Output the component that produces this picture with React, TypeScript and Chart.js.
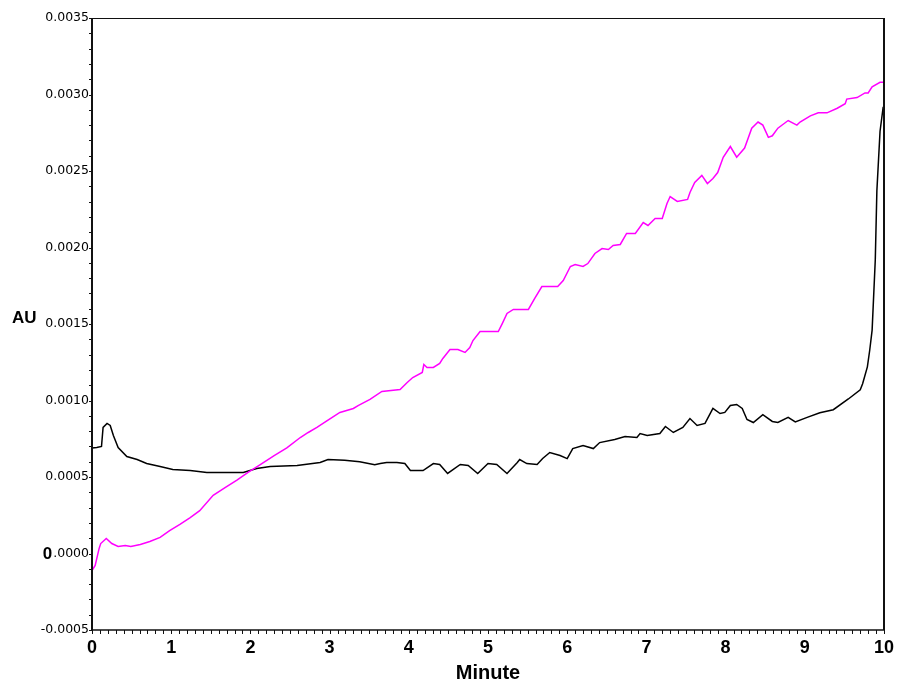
import React, { useEffect, useRef } from "react";
import { Chart, registerables } from "chart.js";

Chart.register(...registerables);

// Magenta trace (minutes, AU)
const magentaTimes = [
  0, 0.04, 0.09, 0.11, 0.18, 0.25, 0.33, 0.42, 0.49, 0.61, 0.73, 0.86, 0.98, 1.11, 1.24, 1.36,
  1.53, 1.68, 1.83, 1.97, 2.12, 2.3, 2.46, 2.63, 2.73, 2.84, 2.97, 3.13, 3.3, 3.36, 3.51, 3.66,
  3.89, 3.98, 4.05, 4.17, 4.19, 4.23, 4.31, 4.39, 4.43, 4.52, 4.62, 4.71, 4.77, 4.81, 4.9, 5.13,
  5.18, 5.24, 5.32, 5.51, 5.59, 5.68, 5.88, 5.95, 6.04, 6.1, 6.2, 6.26, 6.35, 6.44, 6.52, 6.58,
  6.67, 6.75, 6.86, 6.96, 7.02, 7.11, 7.2, 7.26, 7.3, 7.39, 7.52, 7.55, 7.61, 7.7, 7.77, 7.84,
  7.9, 7.97, 8.06, 8.14, 8.24, 8.33, 8.41, 8.47, 8.54, 8.59, 8.66, 8.79, 8.9, 8.94, 9.07, 9.17,
  9.28, 9.41, 9.51, 9.53, 9.66, 9.76, 9.8, 9.85, 9.95, 10.0,
];
const magentaValues = [
  -0.000111, -0.000078, 0.000033, 0.000065, 0.000098, 0.000065, 0.000046, 0.000052, 0.000046,
  0.000059, 0.000078, 0.000105, 0.00015, 0.00019, 0.000235, 0.00028, 0.00038, 0.00043, 0.00048,
  0.00053, 0.00058, 0.00064, 0.00069, 0.000758, 0.000791, 0.000824, 0.000869, 0.000922,
  0.000948, 0.000967, 0.001007, 0.001059, 0.001072, 0.001118, 0.00115, 0.001183, 0.001235,
  0.001216, 0.001216, 0.001242, 0.001275, 0.001333, 0.001333, 0.001314, 0.001346, 0.001392,
  0.001451, 0.001451, 0.001503, 0.001569, 0.001595, 0.001595, 0.001667, 0.001745, 0.001745,
  0.001784, 0.001876, 0.001889, 0.001876, 0.001895, 0.001961, 0.001993, 0.001987, 0.002013,
  0.00202, 0.002092, 0.002092, 0.002163, 0.002144, 0.00219, 0.00219, 0.002288, 0.002333,
  0.002301, 0.002314, 0.00236, 0.002425, 0.002471, 0.002418, 0.002451, 0.00249, 0.00259,
  0.00266, 0.00259, 0.00265, 0.00278, 0.00282, 0.0028, 0.00272, 0.00273, 0.00278, 0.00283,
  0.0028, 0.00282, 0.00286, 0.00288, 0.00288, 0.00291, 0.00294, 0.00297, 0.00298, 0.00301,
  0.00301, 0.00305, 0.00308, 0.00308,
];

// Black trace (minutes, AU)
const blackTimes = [
  0, 0.06, 0.12, 0.14, 0.19, 0.23, 0.27, 0.33, 0.44, 0.57, 0.69, 0.86, 1.02, 1.24, 1.45, 1.65,
  1.91, 2.08, 2.25, 2.59, 2.88, 2.98, 3.19, 3.38, 3.57, 3.64, 3.72, 3.85, 3.95, 4.02, 4.18, 4.31,
  4.39, 4.49, 4.65, 4.75, 4.87, 5.0, 5.11, 5.24, 5.37, 5.4, 5.49, 5.62, 5.69, 5.78, 5.91, 6.0,
  6.07, 6.2, 6.33, 6.41, 6.6, 6.73, 6.88, 6.92, 7.01, 7.17, 7.24, 7.34, 7.46, 7.55, 7.64, 7.74,
  7.84, 7.93, 7.99, 8.06, 8.14, 8.21, 8.27, 8.35, 8.47, 8.59, 8.66, 8.79, 8.88, 9.03, 9.19, 9.36,
  9.55, 9.7, 9.73, 9.79, 9.82, 9.85, 9.89, 9.91, 9.95, 9.99,
];
const blackValues = [
  0.00069, 0.000693, 0.0007, 0.000824, 0.00085, 0.000837, 0.000771, 0.000693, 0.000634,
  0.000614, 0.000588, 0.000569, 0.000549, 0.000542, 0.000529, 0.000529, 0.000529, 0.000556,
  0.000569, 0.000575, 0.000595, 0.000614, 0.00061, 0.0006, 0.00058, 0.000588, 0.000595,
  0.000595, 0.000588, 0.000542, 0.000542, 0.000588, 0.000582, 0.000523, 0.000582, 0.000575,
  0.000523, 0.000588, 0.000582, 0.000523, 0.000595, 0.000614, 0.000588, 0.000582, 0.000621,
  0.00066, 0.00064, 0.00062, 0.000686, 0.000706, 0.000686, 0.000725, 0.000745, 0.000765,
  0.000758, 0.000784, 0.000771, 0.000784, 0.00083, 0.000791, 0.000824, 0.000882, 0.000837,
  0.00085, 0.000948, 0.000915, 0.000922, 0.000967, 0.000974, 0.000948, 0.000876, 0.000856,
  0.000908, 0.000863, 0.000856, 0.00089, 0.00086, 0.00089, 0.00092, 0.00094, 0.00101, 0.00107,
  0.00111, 0.00122, 0.00133, 0.00146, 0.00192, 0.00237, 0.00276, 0.00292,
];

const xMin = 0;
const xMax = 10;
const xStep = 1;
const yMin = -0.0005;
const yMax = 0.0035;
const yStep = 0.0005;
const xAxisTitle = "Minute";
const yAxisTitle = "AU";

const Y_FONT = "12.5px 'DejaVu Sans', sans-serif";

const decorPlugin = {
  id: "decor",
  afterDraw(chart: any) {
    const { ctx, chartArea } = chart;
    const { left, right, top, bottom } = chartArea;
    const xs = chart.scales.x;
    const ys = chart.scales.y;
    ctx.save();
    ctx.strokeStyle = "#111";
    ctx.lineWidth = 1;
    ctx.beginPath();
    ctx.moveTo(left, top + 0.5);
    ctx.lineTo(right, top + 0.5);
    ctx.stroke();
    ctx.lineWidth = 2;
    ctx.beginPath();
    ctx.moveTo(left, top);
    ctx.lineTo(left, bottom);
    ctx.moveTo(right, top);
    ctx.lineTo(right, bottom);
    ctx.stroke();
    ctx.lineWidth = 1.5;
    ctx.beginPath();
    ctx.moveTo(left, bottom);
    ctx.lineTo(right, bottom);
    ctx.stroke();
    ctx.lineWidth = 1;
    ctx.beginPath();
    for (let i = 0; i <= Math.round((yMax - yMin) / 0.0001); i++) {
      const v = yMin + i * 0.0001;
      const py = Math.round(ys.getPixelForValue(v)) + 0.5;
      ctx.moveTo(left - 3, py);
      ctx.lineTo(left, py);
    }
    for (let i = 0; i <= Math.round((xMax - xMin) / 0.1); i++) {
      const v = xMin + i * 0.1;
      const px = Math.round(xs.getPixelForValue(v)) + 0.5;
      ctx.moveTo(px, bottom);
      ctx.lineTo(px, bottom + 4);
    }
    ctx.stroke();
    ctx.fillStyle = "#000";
    ctx.font = "bold 17px 'Liberation Sans', Arial, sans-serif";
    ctx.textAlign = "left";
    ctx.textBaseline = "middle";
    ctx.fillText(yAxisTitle, 12, 318);
    ctx.font = Y_FONT;
    const w = ctx.measureText(".0000").width;
    const zy = ys.getPixelForValue(0);
    ctx.font = "bold 17px 'Liberation Sans', Arial, sans-serif";
    ctx.textAlign = "right";
    ctx.textBaseline = "alphabetic";
    ctx.fillText("0", left - 3 - w - 1, zy + 5);
    ctx.restore();
  },
};

export default function App() {
  const ref = useRef<HTMLCanvasElement | null>(null);
  useEffect(() => {
    if (!ref.current) return;
    const chart = new Chart(ref.current, {
      type: "line",
      data: {
        datasets: [
          {
            label: "trace 1",
            data: magentaTimes.map((t, i) => ({ x: t, y: magentaValues[i] })),
            borderColor: "#ff00ff",
            borderWidth: 1.5,
            pointRadius: 0,
            fill: false,
            tension: 0,
          },
          {
            label: "trace 2",
            data: blackTimes.map((t, i) => ({ x: t, y: blackValues[i] })),
            borderColor: "#000000",
            borderWidth: 1.5,
            pointRadius: 0,
            fill: false,
            tension: 0,
          },
        ],
      },
      options: {
        responsive: false,
        animation: false,
        layout: { padding: { top: 18, right: 13, left: 0, bottom: 0 } },
        plugins: {
          legend: { display: false },
          tooltip: { enabled: false },
          title: { display: false },
        },
        scales: {
          x: {
            type: "linear",
            min: xMin,
            max: xMax,
            grid: { display: false, drawTicks: false },
            border: { display: false },
            ticks: {
              stepSize: xStep,
              padding: 7,
              color: "#000",
              maxRotation: 0,
              font: { family: "'Liberation Sans', Arial, sans-serif", size: 18, weight: "bold" },
              callback: (v: any) => String(Math.round(Number(v))),
            },
            title: {
              display: true,
              text: xAxisTitle,
              color: "#000",
              padding: 0,
              font: { family: "'Liberation Sans', Arial, sans-serif", size: 20, weight: "bold", lineHeight: 1 },
            },
            afterFit: (s: any) => {
              s.height = 53;
              s.paddingRight = 0;
              s.paddingLeft = 0;
            },
          },
          y: {
            type: "linear",
            min: yMin,
            max: yMax,
            grid: { display: false, drawTicks: false },
            border: { display: false },
            ticks: {
              stepSize: yStep,
              padding: 3,
              color: "#000",
              font: { family: "'DejaVu Sans', sans-serif", size: 12.5 },
              callback: (v: any) => {
                const n = Number(v);
                if (Math.abs(n) < 1e-9) return ".0000";
                return n.toFixed(4);
              },
            },
            afterFit: (s: any) => {
              s.width = 92;
              s.paddingTop = 0;
              s.paddingBottom = 0;
            },
          },
        },
      },
      plugins: [decorPlugin],
    });
    return () => chart.destroy();
  }, []);
  return (
    <div style={{ position: "absolute", left: 0, top: 0, width: 897, height: 683, background: "#fff" }}>
      <canvas ref={ref} width={897} height={683} />
    </div>
  );
}
